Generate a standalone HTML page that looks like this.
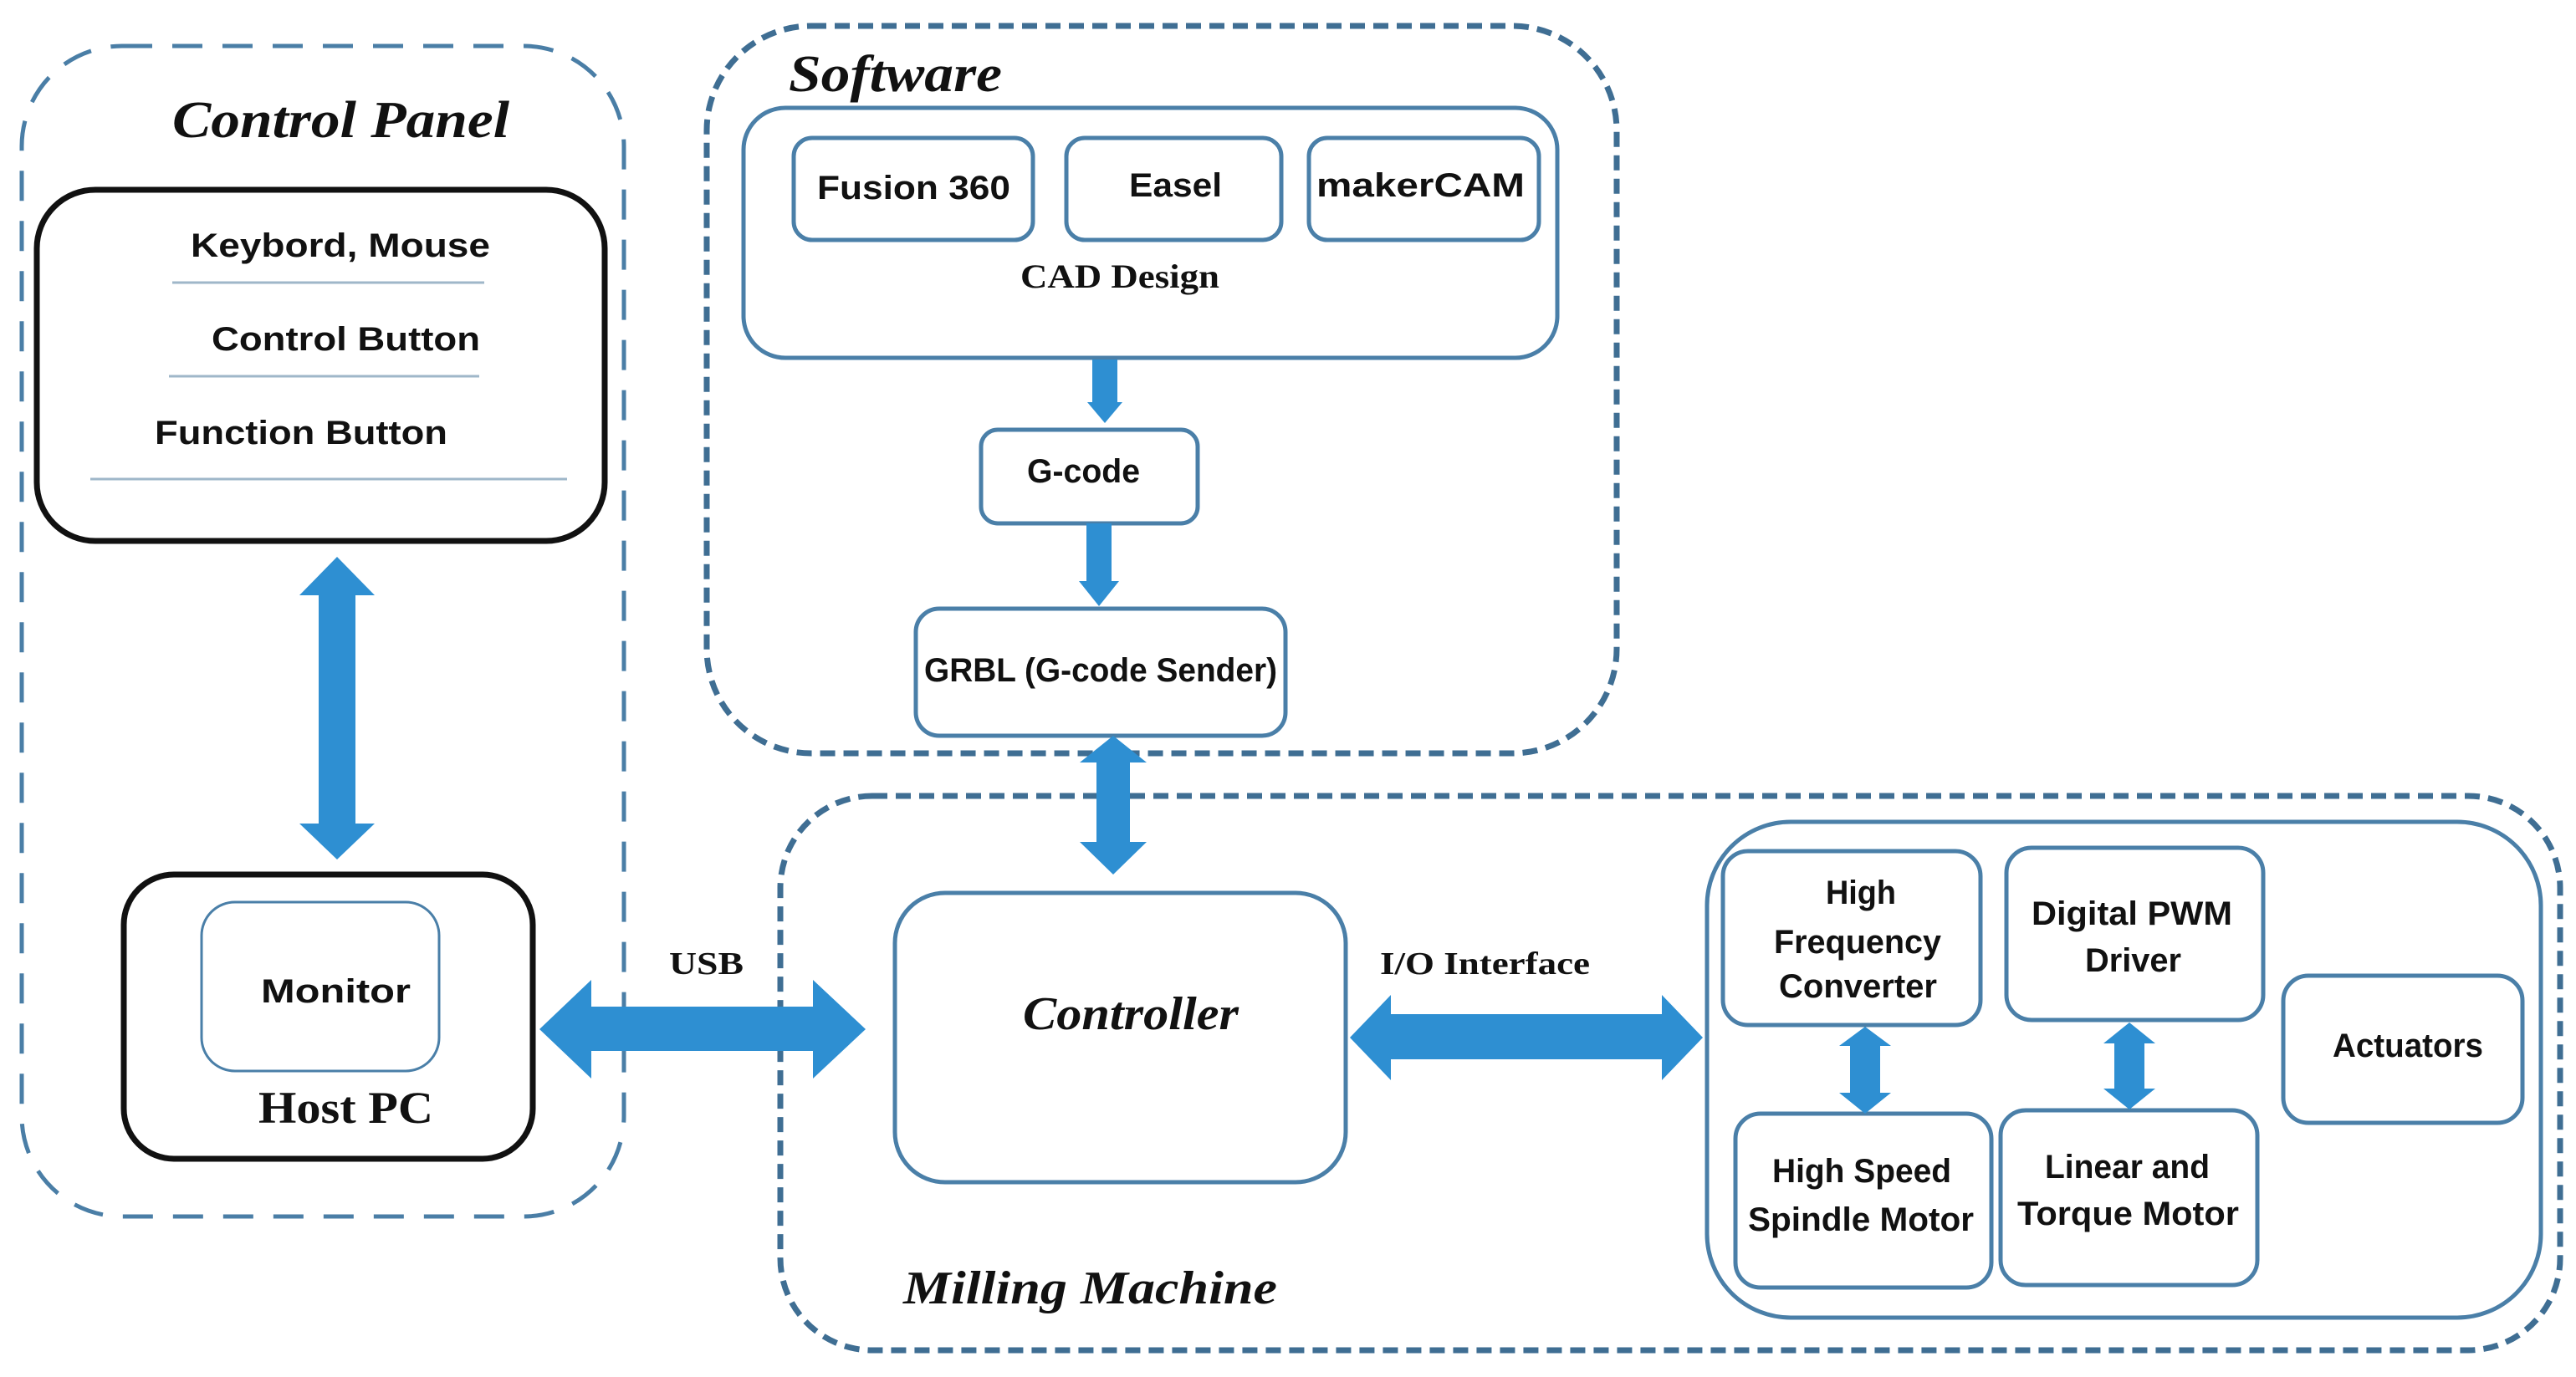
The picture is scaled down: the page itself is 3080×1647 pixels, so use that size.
<!DOCTYPE html>
<html><head><meta charset="utf-8"><style>
html,body{margin:0;padding:0;background:#fff;}
svg{display:block;}
.s{font-family:"Liberation Sans",sans-serif;font-weight:bold;font-size:40px;fill:#111;}
.r{font-family:"Liberation Serif",serif;font-weight:bold;fill:#111;}
.i{font-family:"Liberation Serif",serif;font-weight:bold;font-style:italic;fill:#111;}
</style></head><body>
<svg width="3080" height="1647" viewBox="0 0 3080 1647" xmlns="http://www.w3.org/2000/svg">
<g fill="none">
<!-- dashed groups -->
<rect x="26" y="55" width="720" height="1400" rx="120" stroke="#4a7ea6" stroke-width="5" stroke-dasharray="36 24"/>
<rect x="845" y="31" width="1088" height="870" rx="125" stroke="#3f6e93" stroke-width="7" stroke-dasharray="18 10"/>
<rect x="933" y="952" width="2128" height="663" rx="110" stroke="#3f6e93" stroke-width="7" stroke-dasharray="18 10"/>
<!-- control panel boxes -->
<rect x="44" y="227" width="679" height="420" rx="70" stroke="#111" stroke-width="7"/>
<rect x="148" y="1046" width="489" height="340" rx="60" stroke="#111" stroke-width="7"/>
<rect x="241" y="1079" width="284" height="202" rx="40" stroke="#4a7fa8" stroke-width="3"/>
<!-- software boxes -->
<rect x="889" y="129" width="973" height="299" rx="50" stroke="#4a7fa8" stroke-width="5"/>
<rect x="949" y="165" width="286" height="122" rx="22" stroke="#4a7fa8" stroke-width="5"/>
<rect x="1275" y="165" width="257" height="122" rx="22" stroke="#4a7fa8" stroke-width="5"/>
<rect x="1565" y="165" width="275" height="122" rx="22" stroke="#4a7fa8" stroke-width="5"/>
<rect x="1173" y="514" width="259" height="112" rx="20" stroke="#4a7fa8" stroke-width="5"/>
<rect x="1095" y="728" width="442" height="152" rx="28" stroke="#4a7fa8" stroke-width="5"/>
<!-- milling -->
<rect x="1070" y="1068" width="539" height="346" rx="60" stroke="#4a7fa8" stroke-width="5"/>
<rect x="2041" y="983" width="997" height="593" rx="100" stroke="#4a7fa8" stroke-width="5"/>
<rect x="2060" y="1018" width="308" height="208" rx="30" stroke="#4a7fa8" stroke-width="5"/>
<rect x="2399" y="1014" width="307" height="206" rx="30" stroke="#4a7fa8" stroke-width="5"/>
<rect x="2730" y="1167" width="286" height="176" rx="30" stroke="#4a7fa8" stroke-width="5"/>
<rect x="2075" y="1332" width="306" height="208" rx="30" stroke="#4a7fa8" stroke-width="5"/>
<rect x="2392" y="1328" width="307" height="209" rx="30" stroke="#4a7fa8" stroke-width="5"/>
</g>
<!-- separator lines -->
<g stroke="#9fb7c9" stroke-width="3">
<line x1="206" y1="338" x2="579" y2="338"/>
<line x1="202" y1="450" x2="573" y2="450"/>
<line x1="108" y1="573" x2="678" y2="573"/>
</g>
<!-- arrows -->
<g fill="#2e8fd2">
<!-- vertical CP<->Host -->
<polygon points="403,666 448,712 425,712 425,985 448,985 403,1028 358,985 381,985 381,712 358,712"/>
<!-- USB -->
<polygon points="645,1231 707,1172 707,1204 972,1204 972,1172 1035,1231 972,1290 972,1257 707,1257 707,1290"/>
<!-- CAD->Gcode -->
<polygon points="1306,430 1336,430 1336,481 1342,481 1321,506 1300,481 1306,481"/>
<!-- Gcode->GRBL -->
<polygon points="1299,626 1329,626 1329,695 1338,695 1314,725 1290,695 1299,695"/>
<!-- GRBL<->Controller -->
<polygon points="1331,880 1371,912 1351,912 1351,1007 1371,1007 1331,1046 1291,1007 1311,1007 1311,912 1291,912"/>
<!-- I/O -->
<polygon points="1614,1241 1663,1190 1663,1213 1987,1213 1987,1190 2036,1241 1987,1292 1987,1267 1663,1267 1663,1292"/>
<!-- small -->
<polygon points="2230,1228 2261,1251 2248,1251 2248,1307 2261,1307 2230,1332 2199,1307 2212,1307 2212,1251 2199,1251"/>
<polygon points="2546,1223 2577,1248 2564,1248 2564,1302 2577,1302 2546,1327 2515,1302 2528,1302 2528,1248 2515,1248"/>
</g>
<!-- text -->
<text class="i" x="206" y="164" font-size="62" textLength="403" lengthAdjust="spacingAndGlyphs">Control Panel</text>
<text class="s" x="228" y="307" textLength="358" lengthAdjust="spacingAndGlyphs">Keybord, Mouse</text>
<text class="s" x="253" y="419" textLength="321" lengthAdjust="spacingAndGlyphs">Control Button</text>
<text class="s" x="185" y="531" textLength="350" lengthAdjust="spacingAndGlyphs">Function Button</text>
<text class="s" x="312" y="1199" textLength="179" lengthAdjust="spacingAndGlyphs">Monitor</text>
<text class="r" x="309" y="1343" font-size="54" textLength="209" lengthAdjust="spacingAndGlyphs">Host PC</text>
<text class="r" x="800" y="1165" font-size="38" textLength="89" lengthAdjust="spacingAndGlyphs">USB</text>
<text class="i" x="943" y="109" font-size="62" textLength="255" lengthAdjust="spacingAndGlyphs">Software</text>
<text class="s" x="977" y="238" textLength="231" lengthAdjust="spacingAndGlyphs">Fusion 360</text>
<text class="s" x="1350" y="235" textLength="111" lengthAdjust="spacingAndGlyphs">Easel</text>
<text class="s" x="1574" y="235" textLength="249" lengthAdjust="spacingAndGlyphs">makerCAM</text>
<text class="r" x="1220" y="344" font-size="40" textLength="238" lengthAdjust="spacingAndGlyphs">CAD Design</text>
<text class="s" x="1228" y="577" textLength="135" lengthAdjust="spacingAndGlyphs">G-code</text>
<text class="s" x="1105" y="815" textLength="422" lengthAdjust="spacingAndGlyphs">GRBL (G-code Sender)</text>
<text class="i" x="1223" y="1231" font-size="56" textLength="258" lengthAdjust="spacingAndGlyphs">Controller</text>
<text class="i" x="1080" y="1559" font-size="56" textLength="447" lengthAdjust="spacingAndGlyphs">Milling Machine</text>
<text class="r" x="1650" y="1165" font-size="38" textLength="251" lengthAdjust="spacingAndGlyphs">I/O Interface</text>
<text class="s" x="2183" y="1081" textLength="84" lengthAdjust="spacingAndGlyphs">High</text>
<text class="s" x="2121" y="1140" textLength="200" lengthAdjust="spacingAndGlyphs">Frequency</text>
<text class="s" x="2127" y="1193" textLength="189" lengthAdjust="spacingAndGlyphs">Converter</text>
<text class="s" x="2429" y="1106" textLength="240" lengthAdjust="spacingAndGlyphs">Digital PWM</text>
<text class="s" x="2493" y="1162" textLength="115" lengthAdjust="spacingAndGlyphs">Driver</text>
<text class="s" x="2789" y="1264" textLength="180" lengthAdjust="spacingAndGlyphs">Actuators</text>
<text class="s" x="2119" y="1414" textLength="214" lengthAdjust="spacingAndGlyphs">High Speed</text>
<text class="s" x="2090" y="1472" textLength="270" lengthAdjust="spacingAndGlyphs">Spindle Motor</text>
<text class="s" x="2445" y="1409" textLength="197" lengthAdjust="spacingAndGlyphs">Linear and</text>
<text class="s" x="2412" y="1465" textLength="265" lengthAdjust="spacingAndGlyphs">Torque Motor</text>
</svg>
</body></html>
